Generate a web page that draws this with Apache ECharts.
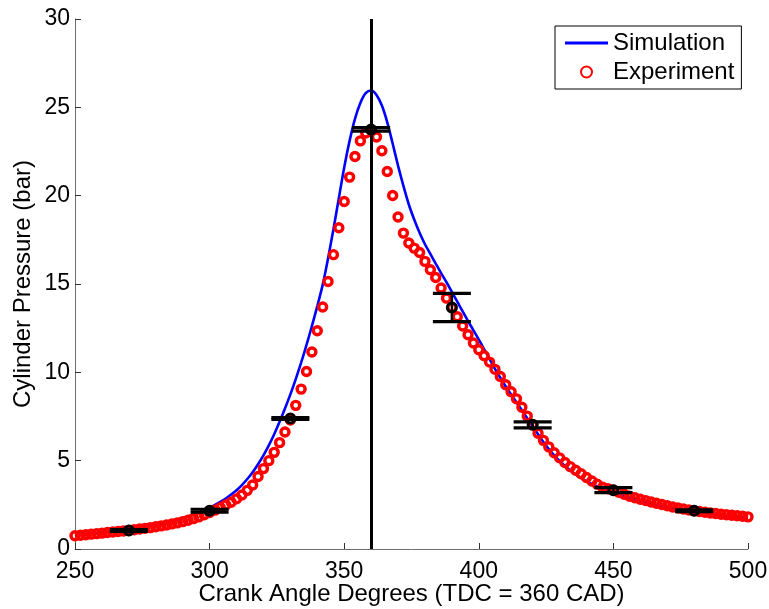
<!DOCTYPE html>
<html>
<head>
<meta charset="utf-8">
<script src="https://cdn.jsdelivr.net/npm/echarts@6/dist/echarts.min.js"></script>
<style>html,body{margin:0;padding:0;background:#fff}#c{width:769px;height:609px}</style>
</head>
<body>
<div id="c"></div>
<script>
// Crank angle grid (CAD)
var crankAngle = [250,252,254,256,258,260,262,264,266,268,270,272,274,276,278,280,282,284,286,288,290,292,294,296,298,
300,302,304,306,308,310,312,314,316,318,320,322,324,326,328,330,332,334,336,338,340,342,344,346,348,
350,352,354,356,358,360,362,364,366,368,370,372,374,376,378,380,382,384,386,388,390,392,394,396,398,
400,402,404,406,408,410,412,414,416,418,420,422,424,426,428,430,432,434,436,438,440,442,444,446,448,
450,452,454,456,458,460,462,464,466,468,470,472,474,476,478,480,482,484,486,488,490,492,494,496,498,500];

var simulation = [0.78,0.81,0.84,0.87,0.90,0.93,0.96,1.00,1.04,1.08,1.12,1.16,1.21,1.26,1.31,1.37,1.43,1.50,1.57,1.65,1.74,1.84,1.95,2.07,2.20,
2.34,2.50,2.67,2.86,3.08,3.33,3.62,3.96,4.35,4.80,5.30,5.87,6.50,7.20,7.95,8.75,9.62,10.55,11.55,12.62,13.75,14.95,16.45,18.10,19.85,
21.60,23.10,24.35,25.25,25.80,25.95,25.70,25.10,24.15,22.95,21.70,20.55,19.50,18.65,17.90,17.25,16.70,16.15,15.62,15.10,14.55,14.00,13.45,12.90,12.38,
11.85,11.30,10.75,10.20,9.70,9.20,8.75,8.30,7.85,7.40,6.95,6.50,6.06,5.66,5.30,4.98,4.70,4.45,4.22,4.02,3.84,3.68,3.53,3.40,3.28,
3.18,3.08,2.99,2.90,2.81,2.73,2.65,2.57,2.50,2.43,2.37,2.31,2.25,2.20,2.15,2.10,2.06,2.02,1.98,1.94,1.90,1.87,1.84,1.81,1.78,1.76];

var experiment = [0.75,0.78,0.81,0.84,0.87,0.90,0.93,0.96,0.99,1.02,1.05,1.09,1.13,1.17,1.21,1.26,1.31,1.36,1.42,1.48,1.55,1.63,1.72,1.82,1.94,
2.07,2.20,2.34,2.49,2.65,2.84,3.06,3.32,3.62,4.10,4.55,5.00,5.47,6.02,6.62,7.30,8.13,9.05,10.05,11.15,12.35,13.70,15.14,16.66,18.18,
19.67,21.05,22.22,23.10,23.55,23.70,23.32,22.54,21.37,20.01,18.79,17.88,17.32,17.03,16.78,16.28,15.81,15.37,14.77,14.20,13.67,13.15,12.62,12.13,11.66,
11.28,10.94,10.58,10.17,9.76,9.30,8.90,8.50,8.02,7.52,7.03,6.55,6.15,5.78,5.45,5.16,4.90,4.66,4.46,4.26,4.05,3.85,3.67,3.50,3.41,
3.33,3.21,3.10,2.99,2.90,2.82,2.74,2.66,2.59,2.52,2.45,2.38,2.32,2.26,2.21,2.17,2.12,2.08,2.04,2.01,1.97,1.94,1.91,1.88,1.85,1.82];

// Mean experimental points with error
var errAngle = [270, 300, 330, 360, 390, 420, 450, 480];
var errMean  = [1.05, 2.17, 7.39, 23.75, 13.67, 7.03, 3.33, 2.17];
var errHalf  = [0.05, 0.08, 0.05, 0.10, 0.80, 0.17, 0.14, 0.05];

var xTicks = [250, 300, 350, 400, 450, 500];
var tdcAngle = 360;

var FONT = 'Liberation Sans, Arial, Helvetica, sans-serif';

var simData = crankAngle.map(function(x, i){ return [x, simulation[i]]; });
var expData = crankAngle.map(function(x, i){ return [x, experiment[i]]; });
var errData = errAngle.map(function(x, i){ return [x, errMean[i], errHalf[i]]; });

var chart = echarts.init(document.getElementById('c'), null, {renderer: 'canvas'});
chart.setOption({
  backgroundColor: '#fff',
  animation: false,
  textStyle: {fontFamily: FONT},
  grid: {left: 75, right: 21, top: 19, bottom: 60, containLabel: false, outerBoundsMode: 'none'},
  legend: {
    show: true,
    left: 555, top: 26,
    orient: 'vertical',
    backgroundColor: '#fff',
    borderColor: '#000', borderWidth: 1, borderRadius: 0,
    padding: [5, 7, 5, 10],
    itemGap: 5, itemWidth: 43, itemHeight: 11,
    textStyle: {fontSize: 24, color: '#000', fontFamily: FONT},
    data: [
      {name: 'Simulation', icon: 'path://M0,0L43,0L43,3L0,3Z', itemStyle: {color: '#0000ff', borderWidth: 0}},
      {name: 'Experiment'}
    ]
  },
  xAxis: {
    type: 'value', min: 250, max: 500, interval: 50,
    name: 'Crank Angle Degrees (TDC = 360 CAD)',
    nameLocation: 'middle', nameGap: 33, nameMoveOverlap: false,
    nameTextStyle: {fontSize: 24, color: '#000', fontFamily: FONT},
    axisLine: {show: true, lineStyle: {color: '#6e6e6e', width: 1}},
    axisTick: {show: true, inside: true, length: 6, lineStyle: {color: '#333'}},
    axisLabel: {fontSize: 23, color: '#000', margin: 11, fontFamily: FONT,
      formatter: function(v){ return xTicks.indexOf(v) >= 0 ? String(v) : ''; }},
    splitLine: {show: false}
  },
  yAxis: {
    type: 'value', min: 0, max: 30, interval: 5,
    name: 'Cylinder Pressure (bar)',
    nameLocation: 'middle', nameGap: 40, nameRotate: 90, nameMoveOverlap: false,
    nameTextStyle: {fontSize: 24, color: '#000', fontFamily: FONT},
    axisLine: {show: true, lineStyle: {color: '#6e6e6e', width: 1}},
    axisTick: {show: true, inside: true, length: 6, lineStyle: {color: '#333'}},
    axisLabel: {fontSize: 23, color: '#000', margin: 5, fontFamily: FONT},
    splitLine: {show: false}
  },
  series: [
    {
      name: 'Simulation', type: 'line', data: simData,
      symbol: 'none', smooth: 0.3,
      lineStyle: {color: '#0000ff', width: 2.6},
      itemStyle: {color: '#0000ff'},
      z: 2
    },
    {
      name: 'Experiment', type: 'scatter', data: expData,
      symbol: 'circle', symbolSize: 8,
      itemStyle: {color: 'rgba(255,255,255,0)', borderColor: '#ff0000', borderWidth: 3.4, opacity: 1},
      z: 3
    },
    {
      name: 'TDC', type: 'line', data: [],
      markLine: {
        silent: true, symbol: ['none', 'none'], animation: false,
        label: {show: false},
        lineStyle: {color: '#000', width: 3, type: 'solid'},
        data: [{xAxis: tdcAngle}]
      },
      z: 4
    },
    {
      name: 'Mean', type: 'custom', data: errData, z: 5,
      renderItem: function(params, api){
        var x = api.value(0), y = api.value(1), e = api.value(2);
        var c = api.coord([x, y]);
        var t = api.coord([x, y + e]);
        var b = api.coord([x, y - e]);
        var hw = 19;
        var st = {stroke: '#000', lineWidth: 3.2, fill: null};
        return {type: 'group', children: [
          {type: 'line', shape: {x1: c[0], y1: t[1], x2: c[0], y2: b[1]}, style: {stroke: '#000', lineWidth: 2.5}},
          {type: 'line', shape: {x1: c[0]-hw, y1: t[1], x2: c[0]+hw, y2: t[1]}, style: st},
          {type: 'line', shape: {x1: c[0]-hw, y1: b[1], x2: c[0]+hw, y2: b[1]}, style: st},
          {type: 'circle', shape: {cx: c[0], cy: c[1], r: 4.5}, style: {stroke: '#000', lineWidth: 3, fill: 'rgba(0,0,0,0)'}}
        ]};
      }
    }
  ]
});
</script>
</body>
</html>
